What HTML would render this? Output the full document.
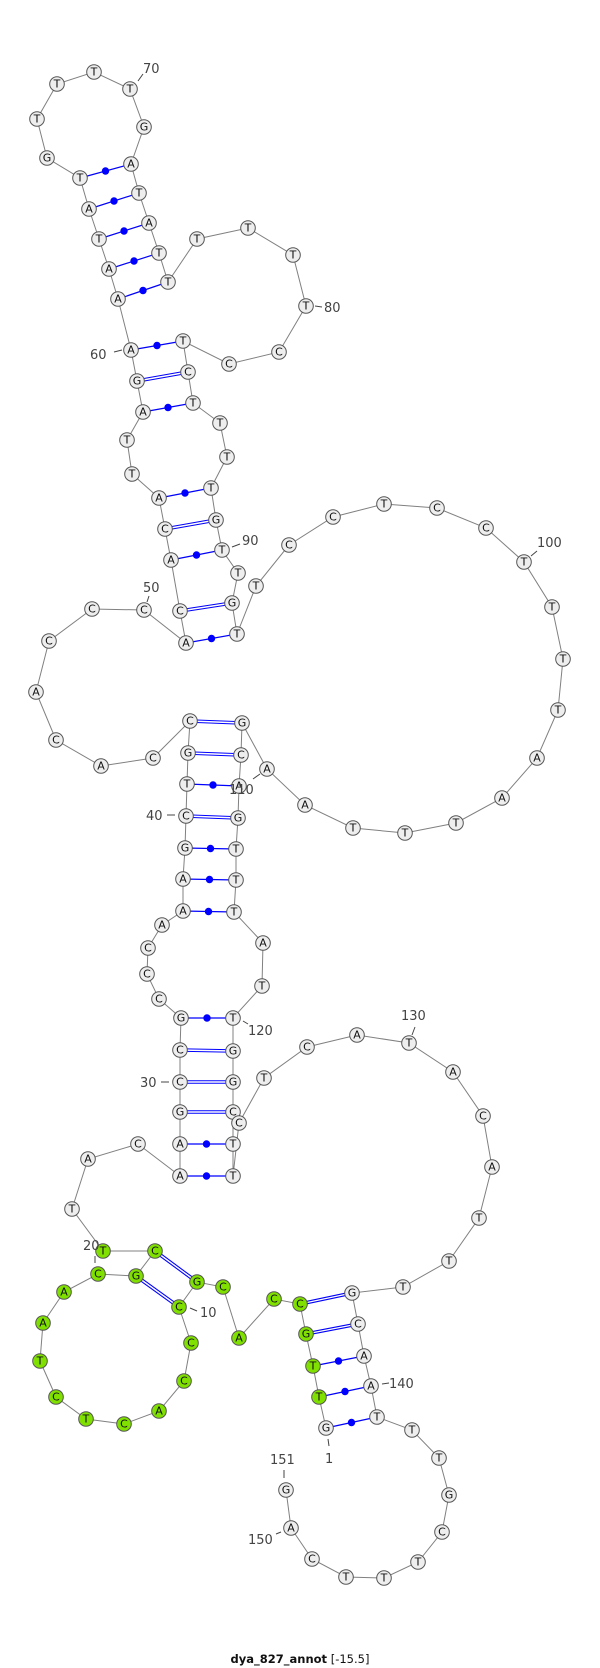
<!DOCTYPE html>
<html><head><meta charset="utf-8"><style>
html,body{margin:0;padding:0;background:#fff;}
svg{display:block;}
.n circle{stroke:#555;stroke-width:1;}
.t{font-family:"DejaVu Sans","Liberation Sans",sans-serif;font-size:11px;fill:#111;text-anchor:middle;dominant-baseline:central;}
.l{font-family:"DejaVu Sans","Liberation Sans",sans-serif;font-size:13px;fill:#444;}
</style></head><body>
<svg width="600" height="1668" viewBox="0 0 600 1668" xmlns="http://www.w3.org/2000/svg">
<rect x="0" y="0" width="600" height="1668" fill="#fff"/>
<polyline fill="none" stroke="#808080" stroke-width="1" points="
326,1428 319,1397 313,1366 306,1334 300,1304 274,1299 239,1338 223,1287 197,1282 179,1307
191,1343 184,1381 159,1411 124,1424 86,1419 56,1397 40,1361 43,1323 64,1292 98,1274
136,1276 155,1251 103,1251 72,1209 88,1159 138,1144 180,1176 180,1144 180,1112 180,1082
180,1050 181,1018 159,999 147,974 148,948 162,925 183,911 183,879 185,848 186,816
187,784 188,753 190,721 153,758 101,766 56,740 36,692 49,641 92,609 144,610
186,643 180,611 171,560 165,529 159,498 132,474 127,440 143,412 137,381 131,350
118,299 109,269 99,239 89,209 80,178 47,158 37,119 57,84 94,72 130,89
144,127 131,164 139,193 149,223 159,253 168,282 197,239 248,228 293,255 306,306
279,352 229,364 183,341 188,372 193,403 220,423 227,457 211,488 216,520 222,550
238,573 232,603 237,634 256,586 289,545 333,517 384,504 437,508 486,528 524,562
552,607 563,659 558,710 537,758 502,798 456,823 405,833 353,828 305,805 267,769
242,723 241,755 239,786 238,818 236,849 236,880 234,912 263,943 262,986 233,1018
233,1051 233,1082 233,1112 233,1144 233,1176 239,1123 264,1078 307,1047 357,1035 409,1043
453,1072 483,1116 492,1167 479,1218 449,1261 403,1287 352,1293 358,1324 364,1356 371,1386
377,1417 412,1430 439,1458 449,1495 442,1532 418,1562 384,1578 346,1577 312,1559 291,1528
286,1490"/>
<g stroke="#0000ff" stroke-width="1.2">
<line x1="326" y1="1428" x2="377" y2="1417"/>
<line x1="319" y1="1397" x2="371" y2="1386"/>
<line x1="313" y1="1366" x2="364" y2="1356"/>
<line x1="180" y1="1176" x2="233" y2="1176"/>
<line x1="180" y1="1144" x2="233" y2="1144"/>
<line x1="181" y1="1018" x2="233" y2="1018"/>
<line x1="183" y1="911" x2="234" y2="912"/>
<line x1="183" y1="879" x2="236" y2="880"/>
<line x1="185" y1="848" x2="236" y2="849"/>
<line x1="187" y1="784" x2="239" y2="786"/>
<line x1="186" y1="643" x2="237" y2="634"/>
<line x1="171" y1="560" x2="222" y2="550"/>
<line x1="159" y1="498" x2="211" y2="488"/>
<line x1="143" y1="412" x2="193" y2="403"/>
<line x1="131" y1="350" x2="183" y2="341"/>
<line x1="118" y1="299" x2="168" y2="282"/>
<line x1="109" y1="269" x2="159" y2="253"/>
<line x1="99" y1="239" x2="149" y2="223"/>
<line x1="89" y1="209" x2="139" y2="193"/>
<line x1="80" y1="178" x2="131" y2="164"/>
</g>
<g fill="#0000ff">
<circle cx="351.5" cy="1422.5" r="3.7"/><circle cx="345" cy="1391.5" r="3.7"/><circle cx="338.5" cy="1361" r="3.7"/>
<circle cx="206.5" cy="1176" r="3.7"/><circle cx="206.5" cy="1144" r="3.7"/><circle cx="207" cy="1018" r="3.7"/>
<circle cx="208.5" cy="911.5" r="3.7"/><circle cx="209.5" cy="879.5" r="3.7"/><circle cx="210.5" cy="848.5" r="3.7"/>
<circle cx="213" cy="785" r="3.7"/><circle cx="211.5" cy="638.5" r="3.7"/><circle cx="196.5" cy="555" r="3.7"/>
<circle cx="185" cy="493" r="3.7"/><circle cx="168" cy="407.5" r="3.7"/><circle cx="157" cy="345.5" r="3.7"/>
<circle cx="143" cy="290.5" r="3.7"/><circle cx="134" cy="261" r="3.7"/><circle cx="124" cy="231" r="3.7"/>
<circle cx="114" cy="201" r="3.7"/><circle cx="105.5" cy="171" r="3.7"/>
</g>
<g stroke="#0000ff" stroke-width="3.6">
<line x1="306" y1="1334" x2="358" y2="1324"/><line x1="300" y1="1304" x2="352" y2="1293"/>
<line x1="155" y1="1251" x2="197" y2="1282"/><line x1="136" y1="1276" x2="179" y2="1307"/>
<line x1="180" y1="1112" x2="233" y2="1112"/><line x1="180" y1="1082" x2="233" y2="1082"/>
<line x1="180" y1="1050" x2="233" y2="1051"/><line x1="186" y1="816" x2="238" y2="818"/>
<line x1="188" y1="753" x2="241" y2="755"/><line x1="190" y1="721" x2="242" y2="723"/>
<line x1="180" y1="611" x2="232" y2="603"/><line x1="165" y1="529" x2="216" y2="520"/>
<line x1="137" y1="381" x2="188" y2="372"/>
</g>
<g stroke="#ffffff" stroke-width="1.4">
<line x1="306" y1="1334" x2="358" y2="1324"/><line x1="300" y1="1304" x2="352" y2="1293"/>
<line x1="155" y1="1251" x2="197" y2="1282"/><line x1="136" y1="1276" x2="179" y2="1307"/>
<line x1="180" y1="1112" x2="233" y2="1112"/><line x1="180" y1="1082" x2="233" y2="1082"/>
<line x1="180" y1="1050" x2="233" y2="1051"/><line x1="186" y1="816" x2="238" y2="818"/>
<line x1="188" y1="753" x2="241" y2="755"/><line x1="190" y1="721" x2="242" y2="723"/>
<line x1="180" y1="611" x2="232" y2="603"/><line x1="165" y1="529" x2="216" y2="520"/>
<line x1="137" y1="381" x2="188" y2="372"/>
</g>
<g stroke="#444" stroke-width="1">
<line x1="138" y1="81" x2="143" y2="74"/>
<line x1="315" y1="306" x2="322" y2="307"/>
<line x1="114" y1="352" x2="122" y2="350"/>
<line x1="232" y1="547" x2="240" y2="544"/>
<line x1="147" y1="602" x2="149" y2="596"/>
<line x1="531" y1="556" x2="537" y2="551"/>
<line x1="253" y1="779" x2="260" y2="774"/>
<line x1="167" y1="815" x2="175" y2="815"/>
<line x1="243" y1="1021" x2="248" y2="1024"/>
<line x1="161" y1="1082" x2="169" y2="1082"/>
<line x1="412" y1="1035" x2="415" y2="1027"/>
<line x1="95" y1="1256" x2="95" y2="1263"/>
<line x1="190" y1="1308" x2="197" y2="1311"/>
<line x1="382" y1="1384" x2="389" y2="1383"/>
<line x1="328" y1="1439" x2="329" y2="1446"/>
<line x1="284" y1="1470" x2="284" y2="1478"/>
<line x1="276" y1="1534" x2="281" y2="1532"/>
</g>
<g class="n" fill="#eeeeee">
<circle cx="326" cy="1428" r="7.3"/>
</g>
<g class="n" fill="#80e000">
<circle cx="319" cy="1397" r="7.3"/><circle cx="313" cy="1366" r="7.3"/><circle cx="306" cy="1334" r="7.3"/><circle cx="300" cy="1304" r="7.3"/><circle cx="274" cy="1299" r="7.3"/><circle cx="239" cy="1338" r="7.3"/><circle cx="223" cy="1287" r="7.3"/><circle cx="197" cy="1282" r="7.3"/><circle cx="179" cy="1307" r="7.3"/><circle cx="191" cy="1343" r="7.3"/><circle cx="184" cy="1381" r="7.3"/><circle cx="159" cy="1411" r="7.3"/><circle cx="124" cy="1424" r="7.3"/><circle cx="86" cy="1419" r="7.3"/><circle cx="56" cy="1397" r="7.3"/><circle cx="40" cy="1361" r="7.3"/><circle cx="43" cy="1323" r="7.3"/><circle cx="64" cy="1292" r="7.3"/><circle cx="98" cy="1274" r="7.3"/><circle cx="136" cy="1276" r="7.3"/><circle cx="155" cy="1251" r="7.3"/><circle cx="103" cy="1251" r="7.3"/>
</g>
<g class="n" fill="#eeeeee">
<circle cx="72" cy="1209" r="7.3"/><circle cx="88" cy="1159" r="7.3"/><circle cx="138" cy="1144" r="7.3"/><circle cx="180" cy="1176" r="7.3"/><circle cx="180" cy="1144" r="7.3"/><circle cx="180" cy="1112" r="7.3"/><circle cx="180" cy="1082" r="7.3"/><circle cx="180" cy="1050" r="7.3"/><circle cx="181" cy="1018" r="7.3"/><circle cx="159" cy="999" r="7.3"/><circle cx="147" cy="974" r="7.3"/><circle cx="148" cy="948" r="7.3"/><circle cx="162" cy="925" r="7.3"/><circle cx="183" cy="911" r="7.3"/><circle cx="183" cy="879" r="7.3"/><circle cx="185" cy="848" r="7.3"/><circle cx="186" cy="816" r="7.3"/><circle cx="187" cy="784" r="7.3"/><circle cx="188" cy="753" r="7.3"/><circle cx="190" cy="721" r="7.3"/><circle cx="153" cy="758" r="7.3"/><circle cx="101" cy="766" r="7.3"/><circle cx="56" cy="740" r="7.3"/><circle cx="36" cy="692" r="7.3"/><circle cx="49" cy="641" r="7.3"/><circle cx="92" cy="609" r="7.3"/><circle cx="144" cy="610" r="7.3"/><circle cx="186" cy="643" r="7.3"/><circle cx="180" cy="611" r="7.3"/><circle cx="171" cy="560" r="7.3"/><circle cx="165" cy="529" r="7.3"/><circle cx="159" cy="498" r="7.3"/><circle cx="132" cy="474" r="7.3"/><circle cx="127" cy="440" r="7.3"/><circle cx="143" cy="412" r="7.3"/><circle cx="137" cy="381" r="7.3"/><circle cx="131" cy="350" r="7.3"/><circle cx="118" cy="299" r="7.3"/><circle cx="109" cy="269" r="7.3"/><circle cx="99" cy="239" r="7.3"/><circle cx="89" cy="209" r="7.3"/><circle cx="80" cy="178" r="7.3"/><circle cx="47" cy="158" r="7.3"/><circle cx="37" cy="119" r="7.3"/><circle cx="57" cy="84" r="7.3"/><circle cx="94" cy="72" r="7.3"/><circle cx="130" cy="89" r="7.3"/><circle cx="144" cy="127" r="7.3"/><circle cx="131" cy="164" r="7.3"/><circle cx="139" cy="193" r="7.3"/><circle cx="149" cy="223" r="7.3"/><circle cx="159" cy="253" r="7.3"/><circle cx="168" cy="282" r="7.3"/><circle cx="197" cy="239" r="7.3"/><circle cx="248" cy="228" r="7.3"/><circle cx="293" cy="255" r="7.3"/><circle cx="306" cy="306" r="7.3"/><circle cx="279" cy="352" r="7.3"/><circle cx="229" cy="364" r="7.3"/><circle cx="183" cy="341" r="7.3"/><circle cx="188" cy="372" r="7.3"/><circle cx="193" cy="403" r="7.3"/><circle cx="220" cy="423" r="7.3"/><circle cx="227" cy="457" r="7.3"/><circle cx="211" cy="488" r="7.3"/><circle cx="216" cy="520" r="7.3"/><circle cx="222" cy="550" r="7.3"/><circle cx="238" cy="573" r="7.3"/><circle cx="232" cy="603" r="7.3"/><circle cx="237" cy="634" r="7.3"/><circle cx="256" cy="586" r="7.3"/><circle cx="289" cy="545" r="7.3"/><circle cx="333" cy="517" r="7.3"/><circle cx="384" cy="504" r="7.3"/><circle cx="437" cy="508" r="7.3"/><circle cx="486" cy="528" r="7.3"/><circle cx="524" cy="562" r="7.3"/><circle cx="552" cy="607" r="7.3"/><circle cx="563" cy="659" r="7.3"/><circle cx="558" cy="710" r="7.3"/><circle cx="537" cy="758" r="7.3"/><circle cx="502" cy="798" r="7.3"/><circle cx="456" cy="823" r="7.3"/><circle cx="405" cy="833" r="7.3"/><circle cx="353" cy="828" r="7.3"/><circle cx="305" cy="805" r="7.3"/><circle cx="267" cy="769" r="7.3"/><circle cx="242" cy="723" r="7.3"/><circle cx="241" cy="755" r="7.3"/><circle cx="239" cy="786" r="7.3"/><circle cx="238" cy="818" r="7.3"/><circle cx="236" cy="849" r="7.3"/><circle cx="236" cy="880" r="7.3"/><circle cx="234" cy="912" r="7.3"/><circle cx="263" cy="943" r="7.3"/><circle cx="262" cy="986" r="7.3"/><circle cx="233" cy="1018" r="7.3"/><circle cx="233" cy="1051" r="7.3"/><circle cx="233" cy="1082" r="7.3"/><circle cx="233" cy="1112" r="7.3"/><circle cx="233" cy="1144" r="7.3"/><circle cx="233" cy="1176" r="7.3"/><circle cx="239" cy="1123" r="7.3"/><circle cx="264" cy="1078" r="7.3"/><circle cx="307" cy="1047" r="7.3"/><circle cx="357" cy="1035" r="7.3"/><circle cx="409" cy="1043" r="7.3"/><circle cx="453" cy="1072" r="7.3"/><circle cx="483" cy="1116" r="7.3"/><circle cx="492" cy="1167" r="7.3"/><circle cx="479" cy="1218" r="7.3"/><circle cx="449" cy="1261" r="7.3"/><circle cx="403" cy="1287" r="7.3"/><circle cx="352" cy="1293" r="7.3"/><circle cx="358" cy="1324" r="7.3"/><circle cx="364" cy="1356" r="7.3"/><circle cx="371" cy="1386" r="7.3"/><circle cx="377" cy="1417" r="7.3"/><circle cx="412" cy="1430" r="7.3"/><circle cx="439" cy="1458" r="7.3"/><circle cx="449" cy="1495" r="7.3"/><circle cx="442" cy="1532" r="7.3"/><circle cx="418" cy="1562" r="7.3"/><circle cx="384" cy="1578" r="7.3"/><circle cx="346" cy="1577" r="7.3"/><circle cx="312" cy="1559" r="7.3"/><circle cx="291" cy="1528" r="7.3"/><circle cx="286" cy="1490" r="7.3"/>
</g>
<g class="t">
<text x="326" y="1428">G</text><text x="319" y="1397">T</text><text x="313" y="1366">T</text><text x="306" y="1334">G</text><text x="300" y="1304">C</text><text x="274" y="1299">C</text><text x="239" y="1338">A</text><text x="223" y="1287">C</text><text x="197" y="1282">G</text><text x="179" y="1307">C</text>
<text x="191" y="1343">C</text><text x="184" y="1381">C</text><text x="159" y="1411">A</text><text x="124" y="1424">C</text><text x="86" y="1419">T</text><text x="56" y="1397">C</text><text x="40" y="1361">T</text><text x="43" y="1323">A</text><text x="64" y="1292">A</text><text x="98" y="1274">C</text>
<text x="136" y="1276">G</text><text x="155" y="1251">C</text><text x="103" y="1251">T</text><text x="72" y="1209">T</text><text x="88" y="1159">A</text><text x="138" y="1144">C</text><text x="180" y="1176">A</text><text x="180" y="1144">A</text><text x="180" y="1112">G</text><text x="180" y="1082">C</text>
<text x="180" y="1050">C</text><text x="181" y="1018">G</text><text x="159" y="999">C</text><text x="147" y="974">C</text><text x="148" y="948">C</text><text x="162" y="925">A</text><text x="183" y="911">A</text><text x="183" y="879">A</text><text x="185" y="848">G</text><text x="186" y="816">C</text>
<text x="187" y="784">T</text><text x="188" y="753">G</text><text x="190" y="721">C</text><text x="153" y="758">C</text><text x="101" y="766">A</text><text x="56" y="740">C</text><text x="36" y="692">A</text><text x="49" y="641">C</text><text x="92" y="609">C</text><text x="144" y="610">C</text>
<text x="186" y="643">A</text><text x="180" y="611">C</text><text x="171" y="560">A</text><text x="165" y="529">C</text><text x="159" y="498">A</text><text x="132" y="474">T</text><text x="127" y="440">T</text><text x="143" y="412">A</text><text x="137" y="381">G</text><text x="131" y="350">A</text>
<text x="118" y="299">A</text><text x="109" y="269">A</text><text x="99" y="239">T</text><text x="89" y="209">A</text><text x="80" y="178">T</text><text x="47" y="158">G</text><text x="37" y="119">T</text><text x="57" y="84">T</text><text x="94" y="72">T</text><text x="130" y="89">T</text>
<text x="144" y="127">G</text><text x="131" y="164">A</text><text x="139" y="193">T</text><text x="149" y="223">A</text><text x="159" y="253">T</text><text x="168" y="282">T</text><text x="197" y="239">T</text><text x="248" y="228">T</text><text x="293" y="255">T</text><text x="306" y="306">T</text>
<text x="279" y="352">C</text><text x="229" y="364">C</text><text x="183" y="341">T</text><text x="188" y="372">C</text><text x="193" y="403">T</text><text x="220" y="423">T</text><text x="227" y="457">T</text><text x="211" y="488">T</text><text x="216" y="520">G</text><text x="222" y="550">T</text>
<text x="238" y="573">T</text><text x="232" y="603">G</text><text x="237" y="634">T</text><text x="256" y="586">T</text><text x="289" y="545">C</text><text x="333" y="517">C</text><text x="384" y="504">T</text><text x="437" y="508">C</text><text x="486" y="528">C</text><text x="524" y="562">T</text>
<text x="552" y="607">T</text><text x="563" y="659">T</text><text x="558" y="710">T</text><text x="537" y="758">A</text><text x="502" y="798">A</text><text x="456" y="823">T</text><text x="405" y="833">T</text><text x="353" y="828">T</text><text x="305" y="805">A</text><text x="267" y="769">A</text>
<text x="242" y="723">G</text><text x="241" y="755">C</text><text x="239" y="786">A</text><text x="238" y="818">G</text><text x="236" y="849">T</text><text x="236" y="880">T</text><text x="234" y="912">T</text><text x="263" y="943">A</text><text x="262" y="986">T</text><text x="233" y="1018">T</text>
<text x="233" y="1051">G</text><text x="233" y="1082">G</text><text x="233" y="1112">C</text><text x="233" y="1144">T</text><text x="233" y="1176">T</text><text x="239" y="1123">C</text><text x="264" y="1078">T</text><text x="307" y="1047">C</text><text x="357" y="1035">A</text><text x="409" y="1043">T</text>
<text x="453" y="1072">A</text><text x="483" y="1116">C</text><text x="492" y="1167">A</text><text x="479" y="1218">T</text><text x="449" y="1261">T</text><text x="403" y="1287">T</text><text x="352" y="1293">G</text><text x="358" y="1324">C</text><text x="364" y="1356">A</text><text x="371" y="1386">A</text>
<text x="377" y="1417">T</text><text x="412" y="1430">T</text><text x="439" y="1458">T</text><text x="449" y="1495">G</text><text x="442" y="1532">C</text><text x="418" y="1562">T</text><text x="384" y="1578">T</text><text x="346" y="1577">T</text><text x="312" y="1559">C</text><text x="291" y="1528">A</text>
<text x="286" y="1490">G</text>
</g>
<g class="l">
<text x="143" y="73">70</text>
<text x="324" y="312">80</text>
<text x="90" y="359">60</text>
<text x="242" y="545">90</text>
<text x="143" y="592">50</text>
<text x="537" y="547">100</text>
<text x="229" y="794">110</text>
<text x="146" y="820">40</text>
<text x="248" y="1035">120</text>
<text x="140" y="1087">30</text>
<text x="401" y="1020">130</text>
<text x="83" y="1250">20</text>
<text x="200" y="1317">10</text>
<text x="389" y="1388">140</text>
<text x="325" y="1463">1</text>
<text x="270" y="1464">151</text>
<text x="248" y="1544">150</text>
</g>
<text x="300" y="1663" text-anchor="middle" font-family="'DejaVu Sans','Liberation Sans',sans-serif" font-size="11.5" fill="#111"><tspan font-weight="bold">dya_827_annot</tspan> [-15.5]</text>
</svg>
</body></html>
